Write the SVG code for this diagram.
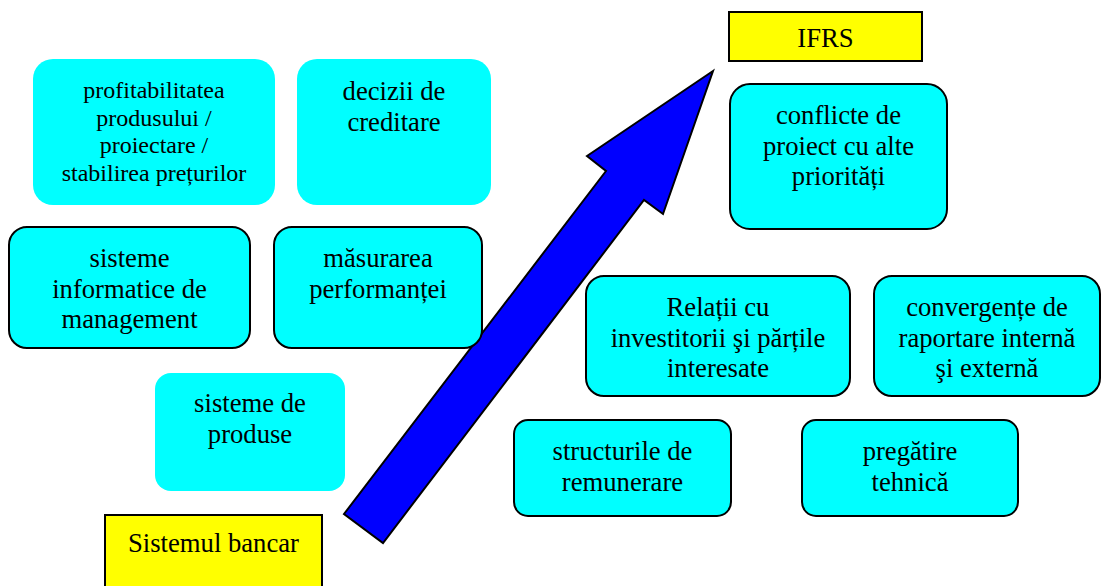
<svg xmlns="http://www.w3.org/2000/svg" width="1103" height="586" viewBox="0 0 1103 586">
<style>
.c{fill:#00FFFF}
.cb{fill:#00FFFF;stroke:#000;stroke-width:2}
.y{fill:#FFFF00;stroke:#000;stroke-width:2}
text{font-family:"Liberation Serif","Times New Roman",serif;font-size:26.67px;fill:#000;text-anchor:middle}
.s{font-size:24px}
</style>
<rect width="1103" height="586" fill="#fff"/>
<g id="connectors">
<polygon points="713,71 587,156 606,171 344,514 383,543 644,200 663,214" fill="#0000FF" stroke="#000" stroke-width="2" stroke-linejoin="miter"/>
</g>
<g id="n-profit">
<rect class="c" x="33" y="59" width="242" height="146" rx="20"/>
<text class="s" x="154" y="98">profitabilitatea</text>
<text class="s" x="154" y="125.6">produsului /</text>
<text class="s" x="154" y="153.2">proiectare /</text>
<text class="s" x="154" y="180.8">stabilirea prețurilor</text>
</g>
<g id="n-decizii">
<rect class="c" x="297" y="59" width="194" height="146" rx="20"/>
<text x="394" y="100">decizii de</text>
<text x="394" y="130.7">creditare</text>
</g>
<g id="n-sisteme-info">
<rect class="cb" x="9" y="227" width="241" height="121" rx="18"/>
<text x="129.5" y="267">sisteme</text>
<text x="129.5" y="297.7">informatice de</text>
<text x="129.5" y="328.4">management</text>
</g>
<g id="n-masurarea">
<rect class="cb" x="274" y="227" width="208" height="121" rx="18"/>
<text x="378" y="267">măsurarea</text>
<text x="378" y="297.7">performanței</text>
</g>
<g id="n-produse">
<rect class="c" x="155" y="373" width="190" height="118" rx="16"/>
<text x="250" y="412">sisteme de</text>
<text x="250" y="442.7">produse</text>
</g>
<g id="n-bancar">
<rect class="y" x="105" y="515" width="217" height="80"/>
<text x="213.5" y="552">Sistemul bancar</text>
</g>
<g id="n-ifrs">
<rect class="y" x="729" y="12" width="193" height="49"/>
<text x="825.5" y="47">IFRS</text>
</g>
<g id="n-conflicte">
<rect class="cb" x="730" y="84" width="217" height="145" rx="20"/>
<text x="838.5" y="124">conflicte de</text>
<text x="838.5" y="154.7">proiect cu alte</text>
<text x="838.5" y="185.4">priorități</text>
</g>
<g id="n-relatii">
<rect class="cb" x="586" y="276" width="264" height="120" rx="18"/>
<text x="718" y="316">Relații cu</text>
<text x="718" y="346.7">investitorii şi părțile</text>
<text x="718" y="377.4">interesate</text>
</g>
<g id="n-convergente">
<rect class="cb" x="874" y="276" width="226" height="120" rx="18"/>
<text x="987" y="316">convergențe de</text>
<text x="987" y="346.7">raportare internă</text>
<text x="987" y="377.4">şi externă</text>
</g>
<g id="n-structurile">
<rect class="cb" x="514" y="420" width="217" height="96" rx="14"/>
<text x="622.5" y="460">structurile de</text>
<text x="622.5" y="490.7">remunerare</text>
</g>
<g id="n-pregatire">
<rect class="cb" x="802" y="420" width="216" height="96" rx="14"/>
<text x="910" y="460">pregătire</text>
<text x="910" y="490.7">tehnică</text>
</g>
</svg>
